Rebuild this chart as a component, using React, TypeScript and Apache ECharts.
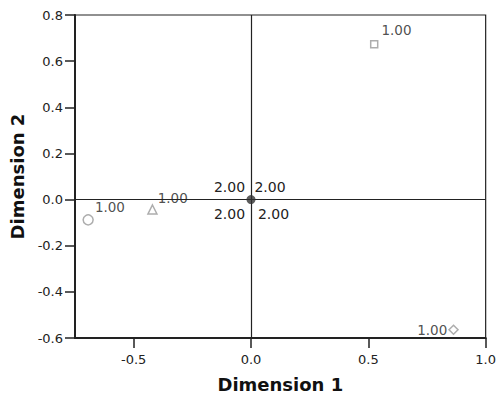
import React, { useEffect, useRef } from "react";
import * as echarts from "echarts";

const pointNames = ["square", "circle", "triangle", "diamond"];
const pointX = [0.525, -0.694, -0.42, 0.863];
const pointY = [0.673, -0.088, -0.043, -0.564];
const pointLabels = ["1.00", "1.00", "1.00", "1.00"];
const pointSymbols = ["rect", "circle", "triangle", "diamond"];
const pointSizes = [7, 10, 9, 9];
const centroid = [0, 0];
const centroidLabels = ["2.00", "2.00", "2.00", "2.00"];
const xTicks = [-0.5, 0, 0.5, 1.0];

export default function App() {
  const ref = useRef<HTMLDivElement>(null);
  useEffect(() => {
    if (!ref.current) return;
    const chart = echarts.init(ref.current, null, { renderer: "svg" });
    const font = "DejaVu Sans";
    const labelPos: any[] = [
      { position: "right", offset: [-2, -14] },
      { position: "right", offset: [-4, -13] },
      { position: "right", offset: [-5, -11] },
      { position: "left", offset: [4, 0] },
    ];
    const pointSeries = pointNames.map((n, i) => ({
      type: "scatter",
      name: n,
      data: [[pointX[i], pointY[i]]],
      symbol: pointSymbols[i],
      symbolSize: pointSizes[i],
      itemStyle: { color: "#fff", borderColor: "#999999", borderWidth: 1.5 },
      label: {
        show: true,
        formatter: pointLabels[i],
        color: "#222",
        fontFamily: font,
        fontSize: 13.5,
        ...labelPos[i],
      },
      z: 5,
    }));
    const cOffsets = [
      [-21.5, -13],
      [19, -13],
      [-21.5, 14.5],
      [22.5, 14.5],
    ];
    const centroidSeries = {
      type: "scatter",
      name: "centroid",
      data: [[centroid[0], centroid[1]]],
      symbol: "circle",
      symbolSize: 9,
      itemStyle: { color: "#333" },
      z: 6,
      label: { show: false },
      markPoint: {
        symbol: "circle",
        symbolSize: 0,
        silent: true,
        data: centroidLabels.map((t, i) => ({
          coord: [centroid[0], centroid[1]],
          value: t,
          label: {
            show: true,
            formatter: t,
            offset: cOffsets[i],
            color: "#222",
            fontFamily: font,
            fontSize: 14,
          },
        })),
      },
      markLine: {
        silent: true,
        symbol: "none",
        label: { show: false },
        lineStyle: { color: "#222", type: "solid", width: 1.2 },
        data: [{ xAxis: 0 }, { yAxis: 0 }],
      },
    };
    chart.setOption({
      animation: false,
      backgroundColor: "#fff",
      grid: {
        left: 74,
        right: 12,
        top: 15,
        bottom: 58,
        show: true,
        borderColor: "#222",
        borderWidth: 1.2,
      },
      xAxis: {
        type: "value",
        min: -0.75,
        max: 1.0,
        interval: 0.25,
        name: "Dimension 1",
        nameLocation: "middle",
        nameGap: 37,
        nameTextStyle: { fontFamily: font, fontSize: 18, fontWeight: "bold", color: "#111" },
        axisLine: { show: true, onZero: false, lineStyle: { color: "#222", width: 2 } },
        axisTick: {
          show: true,
          length: 10,
          lineStyle: { color: "#222", width: 1.5 },
          customValues: xTicks,
        },
        axisLabel: {
          fontFamily: font,
          fontSize: 13,
          color: "#222",
          margin: 15,
          customValues: xTicks,
          formatter: (v: number) => v.toFixed(1),
        },
        splitLine: { show: false },
      },
      yAxis: {
        type: "value",
        min: -0.6,
        max: 0.8,
        interval: 0.2,
        name: "Dimension 2",
        nameLocation: "middle",
        nameGap: 49,
        nameTextStyle: { fontFamily: font, fontSize: 18, fontWeight: "bold", color: "#111" },
        axisLine: { show: true, onZero: false, lineStyle: { color: "#222", width: 2 } },
        axisTick: { show: true, length: 10, lineStyle: { color: "#222", width: 1.5 } },
        axisLabel: {
          fontFamily: font,
          fontSize: 13,
          color: "#222",
          margin: 12,
          formatter: (v: number) => v.toFixed(1),
        },
        splitLine: { show: false },
      },
      series: [...pointSeries, centroidSeries],
    });
    return () => chart.dispose();
  }, []);
  return (
    <div
      ref={ref}
      style={{ position: "absolute", left: 0, top: 0, width: 499, height: 398 }}
    />
  );
}
